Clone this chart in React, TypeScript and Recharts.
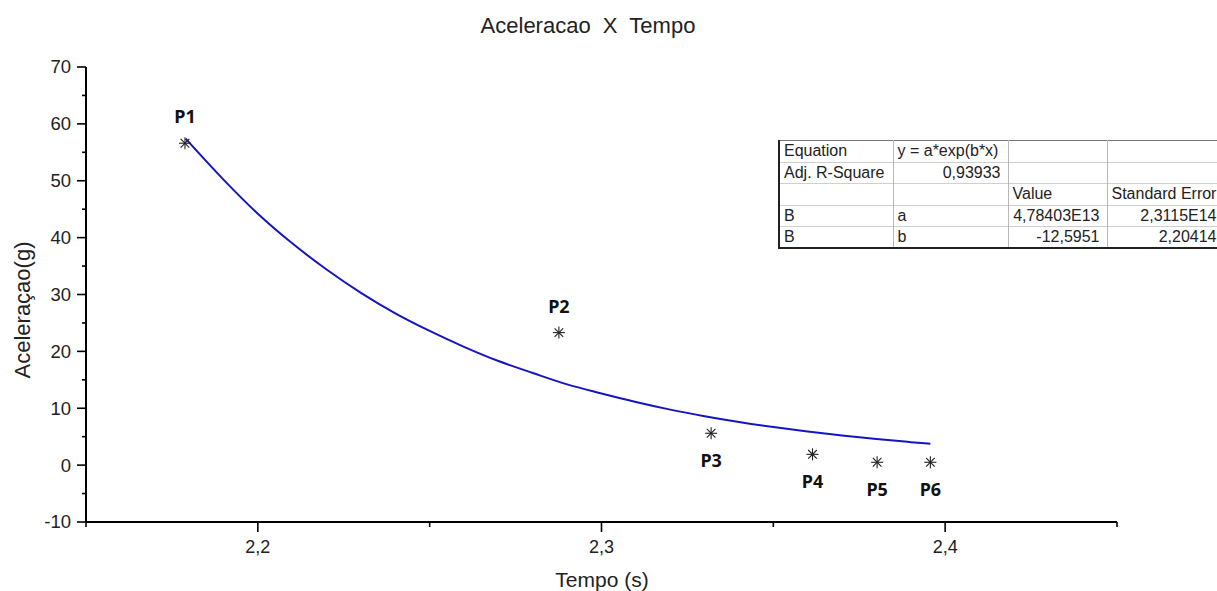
import React from 'react';
import { ComposedChart, Line, Scatter, XAxis, YAxis } from 'recharts';

// ---- data ----
const pointLabels = ['P1', 'P2', 'P3', 'P4', 'P5', 'P6'];
const pointTime = [2.1788, 2.2876, 2.3319, 2.3614, 2.3802, 2.3957];
const pointAccel = [56.6, 23.3, 5.6, 1.9, 0.5, 0.5];

const fitTime = [2.179, 2.19, 2.2, 2.21, 2.22, 2.23, 2.24, 2.25, 2.26, 2.27, 2.28, 2.29, 2.3, 2.31, 2.32, 2.33, 2.34, 2.35, 2.36, 2.37, 2.38, 2.39, 2.3957];
const fitAccel = [57.4, 50.2, 44.2, 39.0, 34.4, 30.3, 26.7, 23.6, 20.8, 18.3, 16.2, 14.2, 12.6, 11.1, 9.76, 8.61, 7.59, 6.69, 5.9, 5.2, 4.58, 4.04, 3.75];

const xTicks = [2.15, 2.2, 2.25, 2.3, 2.35, 2.4, 2.45];
const xTickLabels = ['', '2,2', '', '2,3', '', '2,4', ''];
const yTicks = [-10, -5, 0, 5, 10, 15, 20, 25, 30, 35, 40, 45, 50, 55, 60, 65, 70];
const yTickLabels = ['-10', '', '0', '', '10', '', '20', '', '30', '', '40', '', '50', '', '60', '', '70'];

const titleText = 'Aceleracao  X  Tempo';
const xTitle = 'Tempo (s)';
const yTitle = 'Aceleraçao(g)';

const tableRows = [
  ['Equation', 'y = a*exp(b*x)', '', ''],
  ['Adj. R-Square', '0,93933', '', ''],
  ['', '', 'Value', 'Standard Error'],
  ['B', 'a', '4,78403E13', '2,3115E14'],
  ['B', 'b', '-12,5951', '2,20414'],
];

const pointData = pointTime.map((x, i) => ({ x, y: pointAccel[i], name: pointLabels[i], idx: i }));
const fitData = fitTime.map((x, i) => ({ x, y: fitAccel[i] }));

const FONT = '"Liberation Sans", Arial, sans-serif';

const XTick = (props: any) => {
  const { x, y, payload } = props;
  const idx = xTicks.findIndex((t) => Math.abs(t - payload.value) < 1e-9);
  const label = idx >= 0 ? xTickLabels[idx] : '';
  const major = label !== '';
  return (
    <g>
      <line x1={x} x2={x} y1={y} y2={y + (major ? 10 : 5)} stroke="#000" strokeWidth={1.6} />
      {major && (
        <text x={x} y={y + 31} textAnchor="middle" fontSize={18} fontFamily={FONT} fill="#222">
          {label}
        </text>
      )}
    </g>
  );
};

const YTick = (props: any) => {
  const { x, y, payload } = props;
  const idx = yTicks.findIndex((t) => Math.abs(t - payload.value) < 1e-9);
  const label = idx >= 0 ? yTickLabels[idx] : '';
  const major = label !== '';
  return (
    <g>
      <line x1={x - (major ? 9 : 4)} x2={x} y1={y} y2={y} stroke="#000" strokeWidth={1.6} />
      {major && (
        <text x={x - 15} y={y + 6.4} textAnchor="end" fontSize={18.5} fontFamily={FONT} fill="#222">
          {label}
        </text>
      )}
    </g>
  );
};

const StarShape = (props: any) => {
  const { cx, cy, payload } = props;
  const r = 6;
  const d = r * 0.72;
  const above = payload.idx < 2;
  return (
    <g>
      <g stroke="#222" strokeWidth={1.1}>
        <line x1={cx - r} x2={cx + r} y1={cy} y2={cy} />
        <line x1={cx} x2={cx} y1={cy - r} y2={cy + r} />
        <line x1={cx - d} x2={cx + d} y1={cy - d} y2={cy + d} />
        <line x1={cx - d} x2={cx + d} y1={cy + d} y2={cy - d} />
      </g>
      <text
        x={cx}
        y={above ? cy - 20 : cy + 34}
        textAnchor="middle"
        fontSize={18}
        fontWeight="bold"
        fontFamily='"Noto Sans", "Open Sans", sans-serif'
        fill="#111"
      >
        {payload.name}
      </text>
    </g>
  );
};

const isNumeric = (s: string) => /^-?[\d,]+(E\d+)?$/.test(s);

const colWidths = [114, 115, 99, 117];

export default function App() {
  return (
    <div
      style={{
        position: 'absolute',
        left: 0,
        top: 0,
        width: 1217,
        height: 591,
        overflow: 'hidden',
        background: '#fff',
        fontFamily: FONT,
      }}
    >
      <ComposedChart width={1217} height={591} margin={{ top: 67, right: 100, bottom: 0, left: 0 }}>
        <XAxis
          type="number"
          dataKey="x"
          domain={[2.15, 2.45]}
          ticks={xTicks}
          interval={0}
          tickSize={0}
          tickMargin={0}
          tickLine={false}
          tick={(p: any) => <XTick {...p} />}
          axisLine={{ stroke: '#000', strokeWidth: 2 }}
          height={69}
          allowDataOverflow
        />
        <YAxis
          type="number"
          dataKey="y"
          domain={[-10, 70]}
          ticks={yTicks}
          interval={0}
          tickSize={0}
          tickMargin={0}
          tickLine={false}
          tick={(p: any) => <YTick {...p} />}
          axisLine={{ stroke: '#000', strokeWidth: 2 }}
          width={86}
          allowDataOverflow
        />
        <Line
          data={fitData}
          dataKey="y"
          type="monotone"
          stroke="#1515c0"
          strokeWidth={2}
          dot={false}
          activeDot={false}
          isAnimationActive={false}
        />
        <Scatter data={pointData} dataKey="y" shape={(p: any) => <StarShape {...p} />} isAnimationActive={false} />
      </ComposedChart>

      <svg
        width={1217}
        height={591}
        style={{ position: 'absolute', left: 0, top: 0, pointerEvents: 'none' }}
      >
        <text x={588} y={33.3} textAnchor="middle" fontSize={22} fontFamily={FONT} fill="#222" style={{ whiteSpace: 'pre' }}>
          {titleText}
        </text>
        <text x={602} y={587} textAnchor="middle" fontSize={21} fontFamily={FONT} fill="#222">
          {xTitle}
        </text>
        <text
          x={29.5}
          y={310}
          textAnchor="middle"
          fontSize={22}
          fontFamily={FONT}
          fill="#222"
          transform="rotate(-90 29.5 310)"
        >
          {yTitle}
        </text>
      </svg>

      <table
        style={{
          position: 'absolute',
          left: 778,
          top: 140,
          borderCollapse: 'collapse',
          tableLayout: 'fixed',
          width: colWidths.reduce((a, b) => a + b, 0),
          fontFamily: FONT,
          fontSize: 16,
          color: '#222',
          background: '#fff',
          borderLeft: '2px solid #222',
          borderBottom: '2px solid #222',
          borderTop: '1px solid #777',
        }}
      >
        <colgroup>
          {colWidths.map((w, i) => (
            <col key={i} style={{ width: w }} />
          ))}
        </colgroup>
        <tbody>
          {tableRows.map((row, ri) => (
            <tr key={ri} style={{ height: 21.6 }}>
              {row.map((cell, ci) => (
                <td
                  key={ci}
                  style={{
                    padding: '0 7px 0 4px',
                    lineHeight: '20px',
                    textAlign: isNumeric(cell) ? 'right' : 'left',
                    borderRight: '1px solid #b8b8b8',
                    borderTop: ri > 0 ? '1px solid #cfcfcf' : undefined,
                    whiteSpace: 'nowrap',
                    overflow: 'hidden',
                  }}
                >
                  {cell}
                </td>
              ))}
            </tr>
          ))}
        </tbody>
      </table>
    </div>
  );
}
